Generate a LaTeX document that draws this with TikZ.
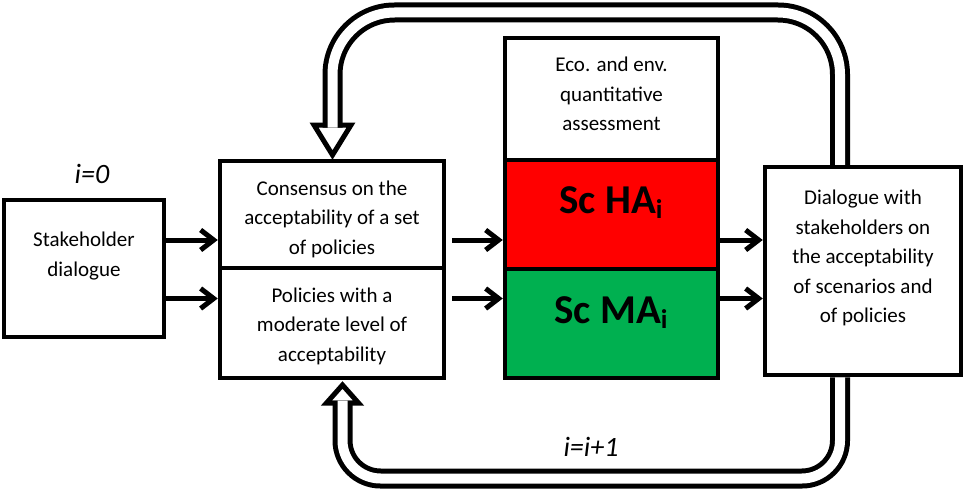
\documentclass[tikz,border=0pt]{standalone}
\usepackage{fontspec}
\setmainfont{Carlito}
\usetikzlibrary{arrows.meta,calc}
\begin{document}
\begin{tikzpicture}[x=1pt,y=-1pt,
  box/.style={draw, line width=4.5pt, inner sep=0pt},
  txt/.style={align=center, inner sep=0pt, font=\fontsize{21}{29.5}\selectfont},
  big/.style={inner sep=0pt, font=\fontsize{41}{41}\selectfont\bfseries},
  flow/.style={line width=5pt, -{Straight Barb[length=13pt,width=20pt]}},
  loop/.style={draw, line width=5pt, double=white, double distance=10pt},
  head/.style={draw, line width=5pt, fill=white, line join=miter},
  iter/.style={inner sep=0pt, font=\fontsize{28}{28}\selectfont\itshape},
]
\newcommand{\subi}{\raisebox{-5pt}{\fontsize{27}{27}\selectfont i}}
\useasboundingbox (0,0) rectangle (964,495);

% boxes
\node[box, minimum width=160pt, minimum height=137pt] (sh) at (84,268.5) {};
\node[box, minimum width=224pt, minimum height=107pt] (cons) at (332,214.5) {};
\node[box, minimum width=224pt, minimum height=110pt] (pol) at (332,323) {};
\node[box, minimum width=213pt, minimum height=122pt] (eco) at (611.5,99) {};
\node[box, fill=red, minimum width=213pt, minimum height=109pt] (ha) at (611.5,214.5) {};
\node[box, fill={rgb,255:red,0;green,176;blue,80}, minimum width=213pt, minimum height=109pt] (ma) at (611.5,323.5) {};
\node[box, minimum width=196pt, minimum height=208pt] (rb) at (863,271) {};

% texts
\node[txt] (shT) at (84,256) {Stakeholder\\dialogue};
\node[txt] (consT) at (332,219) {Consensus on the\\acceptability of a set\\of policies};
\node[txt] (polT) at (332,326) {Policies with a\\moderate level of\\acceptability};
\node[txt] (ecoT) at (611.5,94) {Eco. and env.\\quantitative\\assessment};
\node[txt] (rbT) at (863,258) {Dialogue with\\stakeholders on\\the acceptability\\of scenarios and\\of policies};
\node[big, anchor=base] (haT) at (611,213) {Sc HA\subi};
\node[big, anchor=base] (maT) at (611,323) {Sc MA\subi};
\node[iter, anchor=base] (i0) at (92,183) {i=0};
\node[iter, anchor=base] (i1) at (591,456) {i=i+1};

% arrow rows
\coordinate (r1) at (0,240);
\coordinate (r2) at (0,298.5);

\draw[flow] (sh.east |- r1) -- (cons.west |- r1);
\draw[flow] (sh.east |- r2) -- (pol.west |- r2);
\draw[flow, shorten <=6pt] (cons.east |- r1) -- (ha.west |- r1);
\draw[flow, shorten <=6pt] (pol.east |- r2) -- (ma.west |- r2);
\draw[flow] (ha.east |- r1) -- (rb.west |- r1);
\draw[flow] (ma.east |- r2) -- (rb.west |- r2);

% feedback loops
\coordinate (tx) at (840,0);
\coordinate (topY) at (0,12.5);
\coordinate (botY) at (0,478.5);
\coordinate (hd1) at (332.5,125);
\coordinate (hd2) at (342.5,403);

\filldraw[head] (314,125) -- (351,125) -- (332.5,155) -- cycle;
\draw[loop, rounded corners=62pt] (rb.north -| tx) -- (tx |- topY) -- (hd1 |- topY) -- ($(hd1)+(0,2.5)$);

\filldraw[head] (326.5,403) -- (358.5,403) -- (342.5,385) -- cycle;
\draw[loop, rounded corners=38pt] (rb.south -| tx) -- (tx |- botY) -- (hd2 |- botY) -- ($(hd2)+(0,-2.5)$);
\end{tikzpicture}
\end{document}
